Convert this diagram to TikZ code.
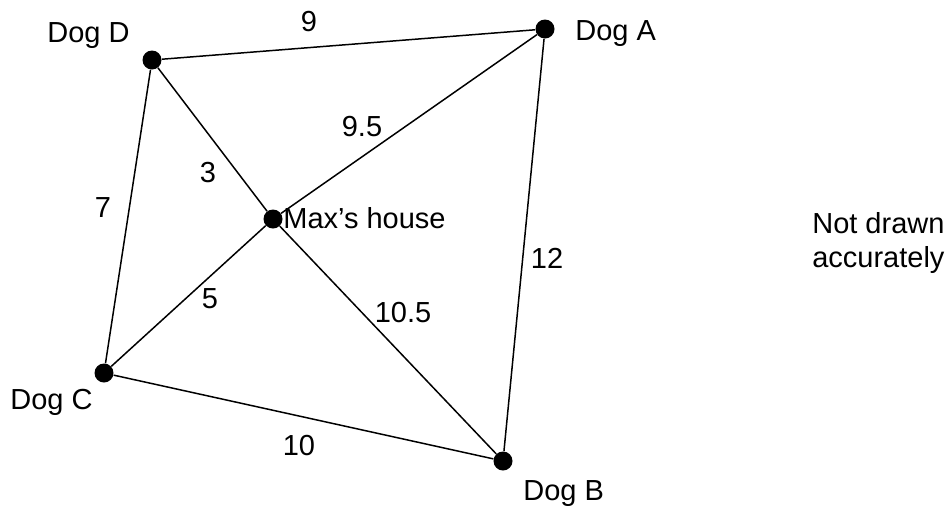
\documentclass[tikz,border=0pt]{standalone}
\usepackage{fontspec}
\setmainfont{Liberation Sans}

\begin{document}
\begin{tikzpicture}[x=0.02cm, y=-0.02cm,
  dot/.style={circle, fill=black, inner sep=0pt, minimum size=0.38cm},
  txt/.style={inner sep=0pt, font=\fontsize{16.5}{20}\selectfont}]
  \useasboundingbox (0,0) rectangle (950,508);

  \node[dot] (A) at (545,29) {};
  \node[dot] (B) at (503,461) {};
  \node[dot] (C) at (104,373) {};
  \node[dot] (D) at (152,60) {};
  \node[dot] (M) at (273,219) {};

  \draw[line width=0.85pt] (D) -- (A) -- (B) -- (C) -- (D) -- (M) -- (B);
  \draw[line width=0.85pt] (C) -- (M) -- (A);

  \node[txt, anchor=base west] (labA) at (575,40) {Dog A};
  \node[txt, anchor=base west] (labB) at (523,500) {Dog B};
  \node[txt, anchor=base west] (labC) at (10,409) {Dog C};
  \node[txt, anchor=base west] (labD) at (47,42) {Dog D};
  \node[txt, anchor=base west] (labM) at (283,228) {Max’s house};

  \node[txt, anchor=base] (dDA) at (309,31) {9};
  \node[txt, anchor=base] (dMA) at (362,136) {9.5};
  \node[txt, anchor=base] (dDM) at (208,182) {3};
  \node[txt, anchor=base] (dDC) at (103,217) {7};
  \node[txt, anchor=base] (dAB) at (547,268) {12};
  \node[txt, anchor=base] (dCM) at (210,308) {5};
  \node[txt, anchor=base] (dMB) at (403,322) {10.5};
  \node[txt, anchor=base] (dCB) at (299,455) {10};

  \node[txt, anchor=base west] (note1) at (812,233) {Not drawn};
  \node[txt, anchor=base west] (note2) at (812,267) {accurately};
\end{tikzpicture}
\end{document}
